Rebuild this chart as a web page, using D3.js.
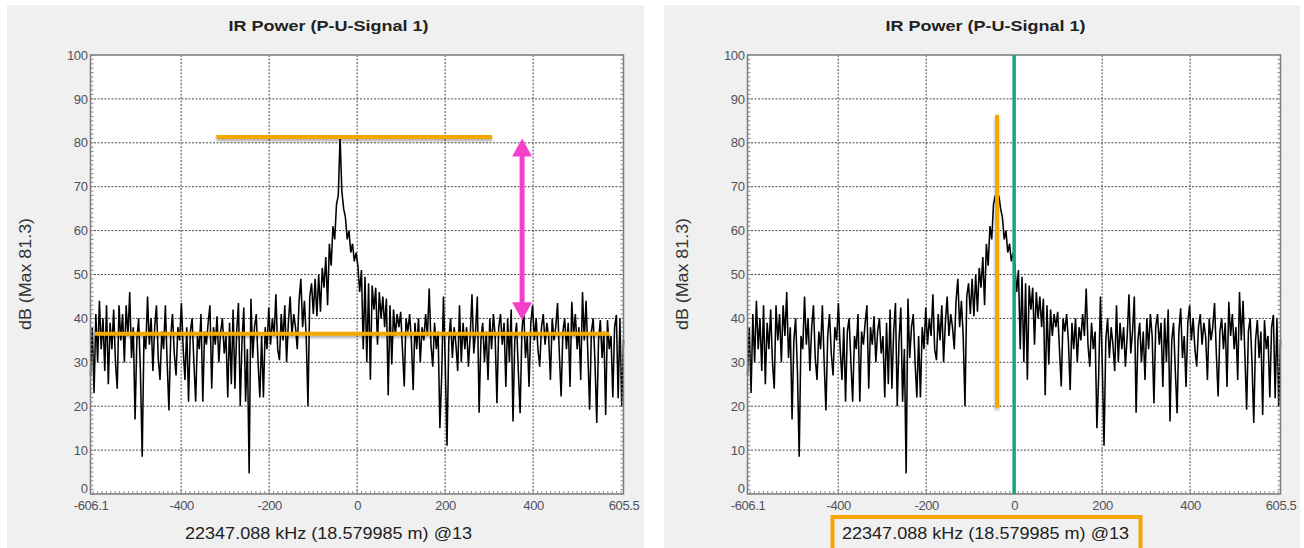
<!DOCTYPE html>
<html><head><meta charset="utf-8">
<script src="https://cdn.jsdelivr.net/npm/d3@7"></script>
<style>
body{margin:0;background:#fff;}
svg{display:block;font-family:"Liberation Sans",Arial,sans-serif;}
</style>
</head><body><svg id="chart" width="1304" height="548"></svg>
<script>
// ---------- data ----------
const chartTitle = "IR Power (P-U-Signal 1)";
const xAxisTitle = "22347.088 kHz (18.579985 m) @13";
const yAxisTitle = "dB (Max 81.3)";
const freqMin = -606.1, freqMax = 605.5;
const xTickValues = [-606.1, -400, -200, 0, 200, 400, 605.5];
const xTickLabels = ["-606.1", "-400", "-200", "0", "200", "400", "605.5"];
const yTickValues = [0, 10, 20, 30, 40, 50, 60, 70, 80, 90, 100];
const yTickLabels = ["0", "10", "20", "30", "40", "50", "60", "70", "80", "90", "100"];
const xGridValues = [-400, -200, 0, 200, 400];
const yGridValues = [10, 20, 30, 40, 50, 60, 70, 80, 90];

// spectrum (dB), sampled evenly from freqMin to freqMax
const dbWingLeft = [
  27, 38, 23, 41, 30, 44, 33, 40, 28, 43,
  25, 39, 33, 42, 30, 24, 43, 35, 41, 30,
  43, 36, 46, 31, 38, 17, 35, 40, 28, 8.5,
  36, 33, 45, 34, 40, 28, 38, 43, 31, 26,
  37, 33, 43, 30, 19, 36, 41, 32, 27, 38,
  35, 43.5, 33, 26, 38, 21, 37, 40, 30, 21,
  36, 33, 41, 21, 37, 34, 39, 43, 24, 38,
  34, 40.5, 30, 37, 40, 32, 36, 22, 39, 25,
  42, 24, 37, 43.5, 20, 35, 42.5, 21, 33, 4.7,
  44.5, 31, 38, 41, 30, 22, 36, 22, 38, 33,
  42.5, 34, 40, 36, 45.5, 33, 30.5, 41, 35, 43,
  30, 39, 45, 36, 41, 38, 33, 44, 49, 38,
  44, 36, 20, 45, 48, 41, 49, 40.5, 50, 41.5,
  51.5, 47, 54, 43, 57, 52, 61, 58, 66
];
const dbPeakA = [68, 81.3, 69];   // left chart peak
const dbPeakB = [68, 64, 68];     // right chart peak
const dbWingRight = [
  65, 63, 58, 60, 55, 57, 53, 55,
  52, 46, 51, 33, 49.5, 30, 48, 26, 47.5, 42,
  47, 34, 46, 40, 45, 38, 44.5, 22.5, 43, 29.5,
  42, 36, 41, 38, 41.5, 33, 24.5, 40, 37, 41,
  35, 23.7, 39, 33, 40, 30, 38, 35, 41, 36,
  46.8, 34, 29, 39, 33, 37, 15, 27, 45, 30,
  11, 35, 40, 31, 38, 34, 28, 43, 30, 39,
  33, 38, 29, 36, 45.5, 32, 37, 45, 18.5, 35,
  39, 30, 37, 26, 40, 33, 41, 36, 20.7, 38,
  41, 34, 39, 24.4, 40, 30, 42, 16.5, 35, 39,
  28, 18.4, 37, 42.3, 31, 36, 24.4, 39, 43, 35,
  40, 33, 29, 38, 41, 34, 39, 36, 26, 40,
  35, 38, 43.5, 32, 22.2, 37, 40, 33, 39, 24.4,
  43.8, 36, 41, 33, 38, 26, 46, 35, 44, 32,
  19.2, 37, 40, 30, 16.2, 35, 39.6, 31, 37, 18,
  39.6, 33, 36, 22, 38, 40.8, 21.8, 40, 19.9, 35
];

// annotations (data units)
const levelLines = [ {db: 81.3, from: -320, to: 307}, {db: 36.5, from: -596, to: 573} ];
const rangeArrow = {freq: 375, fromDb: 81.0, toDb: 39.6};
const peakMarker = {freq: -38.8, fromDb: 20, toDb: 86};
const zeroMarker = {freq: 0, fromDb: 0, toDb: 100};

// ---------- drawing ----------
const svg = d3.select("#chart");
const defs = svg.append("defs");
const f = defs.append("filter").attr("id", "shadow").attr("filterUnits", "userSpaceOnUse")
  .attr("x", 0).attr("y", 0).attr("width", 1304).attr("height", 548);
f.append("feDropShadow").attr("dx", 0).attr("dy", 2).attr("stdDeviation", 1.5).attr("flood-color", "#000").attr("flood-opacity", 0.35);

const ORANGE = "#f5a700", MAGENTA = "#f53fca", TEAL = "#17a283";
const plotW = 533, plotTop = 55, plotBottom = 494;

function drawPanel(layout, series, decorate) {
  const g = svg.append("g");
  g.append("rect").attr("x", layout.bgX).attr("y", 5).attr("width", layout.bgW).attr("height", 543).attr("fill", "#f0f0f0");

  const x = d3.scaleLinear().domain([freqMin, freqMax]).range([layout.plotLeft, layout.plotLeft + plotW]);
  const y = d3.scaleLinear().domain([0, 100]).range([plotBottom, plotTop]);

  g.append("rect").attr("x", x(freqMin)).attr("y", plotTop).attr("width", plotW).attr("height", plotBottom - plotTop).attr("fill", "#fff");

  // grid
  g.append("g").selectAll("line").data(yGridValues).join("line")
    .attr("x1", x(freqMin)).attr("x2", x(freqMax)).attr("y1", d => y(d)).attr("y2", d => y(d))
    .attr("stroke", "#4a4a4a").attr("stroke-width", 1).attr("stroke-dasharray", "2,1.5");
  g.append("g").selectAll("line").data(xGridValues).join("line")
    .attr("y1", plotTop).attr("y2", plotBottom).attr("x1", d => x(d)).attr("x2", d => x(d))
    .attr("stroke", "#4a4a4a").attr("stroke-width", 1).attr("stroke-dasharray", "2,1.5");

  // spectrum
  const n = series.length;
  const pts = series.map((v, i) => [freqMin + i * (freqMax - freqMin) / (n - 1), v]);
  g.append("path").datum(pts)
    .attr("d", d3.line().x(d => x(d[0])).y(d => y(d[1])))
    .attr("fill", "none").attr("stroke", "#000").attr("stroke-width", 1.55).attr("stroke-linejoin", "miter");

  // frame + minor ticks
  g.append("rect").attr("x", x(freqMin)).attr("y", plotTop).attr("width", plotW).attr("height", plotBottom - plotTop)
    .attr("fill", "none").attr("stroke", "#7a7a7a").attr("stroke-width", 1.5);
  const minorY = d3.range(0, 101, 1);
  g.append("g").selectAll("line").data(minorY).join("line")
    .attr("x1", x(freqMin)).attr("x2", x(freqMin) + 3).attr("y1", d => y(d)).attr("y2", d => y(d))
    .attr("stroke", "#8a8a8a").attr("stroke-width", 1);
  g.append("g").selectAll("line").data(minorY).join("line")
    .attr("x1", x(freqMax)).attr("x2", x(freqMax) - 3).attr("y1", d => y(d)).attr("y2", d => y(d))
    .attr("stroke", "#8a8a8a").attr("stroke-width", 1);
  const minorX = d3.range(-600, 606, 10);
  g.append("g").selectAll("line").data(minorX).join("line")
    .attr("y1", plotBottom).attr("y2", plotBottom - 3).attr("x1", d => x(d)).attr("x2", d => x(d))
    .attr("stroke", "#8a8a8a").attr("stroke-width", 1);

  // axes labels
  const ax = g.append("g").attr("transform", `translate(0,${plotBottom})`)
    .call(d3.axisBottom(x).tickValues(xTickValues).tickFormat((d, i) => xTickLabels[i]).tickSize(0).tickPadding(7));
  const ay = g.append("g").attr("transform", `translate(${x(freqMin)},0)`)
    .call(d3.axisLeft(y).tickValues(yTickValues).tickFormat((d, i) => yTickLabels[i]).tickSize(0).tickPadding(3));
  [ax, ay].forEach(a => {
    a.select(".domain").remove();
    a.selectAll("text").attr("font-family", '"Liberation Sans Narrow","Liberation Sans",Arial,sans-serif')
      .attr("font-size", 13).attr("fill", "#50505c").attr("letter-spacing", -0.4);
  });
  // lowest y label sits a little above the axis corner, clear of the x labels
  ay.selectAll(".tick").filter(d => d === 0).select("text").attr("y", -6);

  // titles
  const cx = layout.plotLeft + 238;
  g.append("text").attr("x", cx).attr("y", 31).attr("text-anchor", "middle")
    .attr("font-size", 15).attr("font-weight", "bold").attr("fill", "#222")
    .attr("textLength", 200).attr("lengthAdjust", "spacingAndGlyphs").text(chartTitle);
  g.append("text").attr("x", cx).attr("y", 539).attr("text-anchor", "middle")
    .attr("font-size", 17).attr("fill", "#222")
    .attr("textLength", 287).attr("lengthAdjust", "spacingAndGlyphs").text(xAxisTitle);
  g.append("text").attr("transform", `translate(${layout.plotLeft - 60},274) rotate(-90)`).attr("text-anchor", "middle")
    .attr("font-size", 16.5).attr("fill", "#333")
    .attr("textLength", 112).attr("lengthAdjust", "spacingAndGlyphs").text(yAxisTitle);

  decorate(g, x, y, cx);
}

drawPanel({bgX: 7, bgW: 637, plotLeft: 90.5}, dbWingLeft.concat(dbPeakA, dbWingRight), (g, x, y) => {
  g.append("g").selectAll("line").data(levelLines).join("line")
    .attr("x1", d => x(d.from)).attr("x2", d => x(d.to)).attr("y1", d => y(d.db)).attr("y2", d => y(d.db))
    .attr("stroke", ORANGE).attr("stroke-width", 4).attr("filter", "url(#shadow)");
  const ax = x(rangeArrow.freq), yTop = y(rangeArrow.fromDb), yBot = y(rangeArrow.toDb);
  const hw = 10, hh = 18;
  g.append("line").attr("x1", ax).attr("x2", ax).attr("y1", yTop + hh - 2).attr("y2", yBot - hh + 2)
    .attr("stroke", MAGENTA).attr("stroke-width", 5);
  g.append("path").attr("d", `M${ax},${yTop} L${ax + hw},${yTop + hh} L${ax - hw},${yTop + hh} Z`).attr("fill", MAGENTA);
  g.append("path").attr("d", `M${ax},${yBot} L${ax + hw},${yBot - hh} L${ax - hw},${yBot - hh} Z`).attr("fill", MAGENTA);
});

drawPanel({bgX: 664, bgW: 636, plotLeft: 747.5}, dbWingLeft.concat(dbPeakB, dbWingRight), (g, x, y, cx) => {
  g.append("line").attr("x1", x(peakMarker.freq)).attr("x2", x(peakMarker.freq))
    .attr("y1", y(peakMarker.toDb)).attr("y2", y(peakMarker.fromDb))
    .attr("stroke", ORANGE).attr("stroke-width", 4).attr("stroke-linecap", "round").attr("filter", "url(#shadow)");
  g.append("line").attr("x1", x(zeroMarker.freq)).attr("x2", x(zeroMarker.freq))
    .attr("y1", y(zeroMarker.toDb)).attr("y2", y(zeroMarker.fromDb))
    .attr("stroke", TEAL).attr("stroke-width", 3.5);
  g.append("rect").attr("x", cx - 153).attr("y", 517).attr("width", 308).attr("height", 40)
    .attr("fill", "none").attr("stroke", ORANGE).attr("stroke-width", 4);
});
</script>
</body></html>
